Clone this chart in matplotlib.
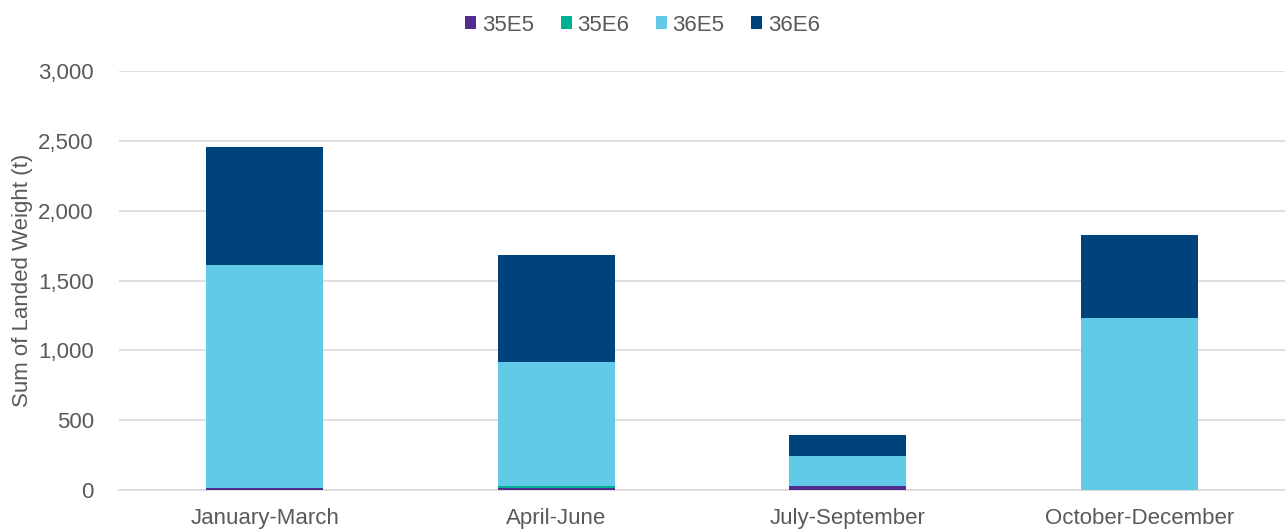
import matplotlib.pyplot as plt
import numpy as np

# quarterly landings by ICES rectangle
quarters = ["January-March", "April-June", "July-September", "October-December"]
series = ["35E5", "35E6", "36E5", "36E6"]
w_35e5 = [15, 15, 28, 0]
w_35e6 = [0, 15, 0, 0]
w_36e5 = [1600, 887, 215, 1231]
w_36e6 = [840, 766, 151, 595]
colors = ["#512D8E", "#00B092", "#62CAE6", "#00427A"]

plt.rcParams["font.family"] = ["Liberation Sans", "DejaVu Sans"]

fig = plt.figure(figsize=(12.85, 5.31), dpi=100)
ax = fig.add_axes([0.0926, 0.0772, 0.9074, 0.7888])

x = np.arange(len(quarters))
bottom = np.zeros(len(quarters))
for name, vals, c in zip(series, [w_35e5, w_35e6, w_36e5, w_36e6], colors):
    ax.bar(x, vals, width=0.4, bottom=bottom, color=c, label=name, zorder=3)
    bottom += np.array(vals)

ax.set_xlim(-0.5, len(quarters) - 0.5)
ax.set_ylim(0, 3000)
ax.set_yticks(range(0, 3001, 500))
ax.set_yticklabels([f"{v:,}" for v in range(0, 3001, 500)])
ax.set_xticks(x)
ax.set_xticklabels(quarters)
ax.tick_params(length=0, labelsize=16, colors="#595959")
ax.tick_params(axis="y", pad=18)
ax.tick_params(axis="x", pad=13)
ax.grid(axis="y", color="#D9D9D9", linewidth=1.2, zorder=0)
for s in ["top", "right", "left"]:
    ax.spines[s].set_visible(False)
ax.spines["bottom"].set_color("#D9D9D9")
ax.spines["bottom"].set_linewidth(1.2)
ax.set_ylabel("Sum of Landed Weight (t)", fontsize=16, color="#595959", labelpad=4)

fig.legend(loc="upper center", bbox_to_anchor=(0.5, 1.01), ncol=4, frameon=False,
           fontsize=16, labelcolor="#595959", handlelength=0.5, handleheight=0.5,
           handletextpad=0.25, columnspacing=1.2)

fig.savefig("out.png", dpi=100)
